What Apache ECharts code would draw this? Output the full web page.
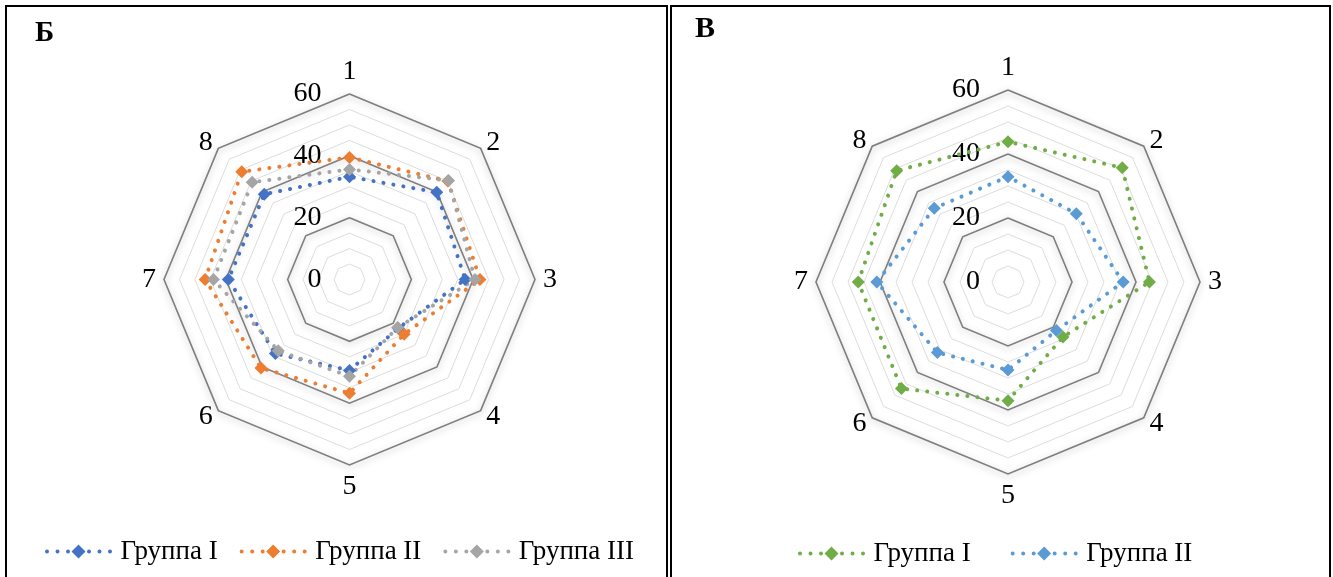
<!DOCTYPE html>
<html>
<head>
<meta charset="utf-8">
<script src="https://cdn.jsdelivr.net/npm/echarts@6/dist/echarts.min.js"></script>
<style>
html, body { margin: 0; padding: 0; background: #fff; width: 1333px; height: 577px; overflow: hidden; }
.frame { position: absolute; border: 2px solid #000; box-sizing: border-box; }
.chart { position: absolute; top: 0; height: 577px; }
</style>
</head>
<body>
<div class="frame" style="left:5px; top:5px; width:663px; height:620px;"></div>
<div class="frame" style="left:670px; top:5px; width:661px; height:620px;"></div>
<div id="chartB" class="chart" style="left:0; width:667px;"></div>
<div id="chartV" class="chart" style="left:667px; width:666px;"></div>
<script>
// Indicator names (clockwise from the top) and value scale
var indicatorNames = ['1', '2', '3', '4', '5', '6', '7', '8'];
var scaleMax = 60;

// Panel Б
var seriesNamesB = ['Группа I', 'Группа II', 'Группа III'];
var groupB1 = [33.2, 39.9, 37.4, 22.3, 29.4, 33.9, 39.2, 39.0];
var groupB2 = [39.5, 45.0, 42.2, 25.0, 36.8, 40.5, 46.7, 49.3];
var groupB3 = [35.6, 45.3, 40.6, 22.0, 31.3, 32.6, 44.0, 44.5];
var colorsB = ['#4472C4', '#ED7D31', '#A5A5A5'];

// Panel В
var seriesNamesV = ['Группа I', 'Группа II'];
var groupV1 = [43.8, 50.5, 44.2, 24.3, 37.1, 47.1, 46.8, 49.2];
var groupV2 = [32.9, 30.2, 36.0, 21.4, 27.5, 31.2, 41.0, 32.6];
var colorsV = ['#70AD47', '#5B9BD5'];

var FONT = '"Liberation Serif", "Times New Roman", serif';

// ECharts lays radar indicators out counter-clockwise; reorder to run clockwise.
var order = [0, 7, 6, 5, 4, 3, 2, 1];
function clockwise(arr) { return order.map(function (i) { return arr[i]; }); }

// Legend glyph: round dots on both sides of a diamond
var legendIcon = 'path://' +
  'M1.5,7a2,2 0 1,0 4,0a2,2 0 1,0 -4,0z' +
  'M12,7a2,2 0 1,0 4,0a2,2 0 1,0 -4,0z' +
  'M22.5,7a2,2 0 1,0 4,0a2,2 0 1,0 -4,0z' +
  'M35,0L42,7L35,14L28,7z' +
  'M43.5,7a2,2 0 1,0 4,0a2,2 0 1,0 -4,0z' +
  'M54,7a2,2 0 1,0 4,0a2,2 0 1,0 -4,0z' +
  'M64.5,7a2,2 0 1,0 4,0a2,2 0 1,0 -4,0z';

function buildOption(cfg) {
  var names = clockwise(indicatorNames);
  var minorInd = names.map(function (n) { return { name: n, min: 0, max: scaleMax }; });
  var majorInd = names.map(function (n, i) {
    var o = { name: n, min: 0, max: scaleMax };
    if (i === 0) o.axisLabel = { show: true };
    return o;
  });
  var radarBase = { center: cfg.center, radius: cfg.radius, startAngle: 90, shape: 'polygon' };
  return {
    animation: false,
    title: {
      text: cfg.title, left: cfg.titleLeft, top: cfg.titleTop, padding: 0,
      textStyle: { fontFamily: FONT, fontWeight: 'bold', fontSize: cfg.titleSize, color: '#000' }
    },
    legend: {
      left: cfg.legendLeft, top: cfg.legendTop, padding: 0,
      itemWidth: 74, itemHeight: 14, itemGap: cfg.legendGap,
      icon: legendIcon,
      itemStyle: { borderWidth: 0 },
      textStyle: { fontFamily: FONT, fontSize: 27, color: '#000' },
      data: cfg.names
    },
    radar: [
      Object.assign({}, radarBase, {
        indicator: minorInd, splitNumber: 12,
        axisName: { show: false },
        axisLine: { show: false }, axisTick: { show: false }, axisLabel: { show: false },
        splitArea: { show: false },
        splitLine: { lineStyle: { color: '#DCDCDC', width: 1 } }
      }),
      Object.assign({}, radarBase, {
        indicator: majorInd, splitNumber: 3, nameGap: 8,
        axisName: { color: '#000', fontFamily: FONT, fontSize: 28 },
        axisLine: { show: false }, axisTick: { show: false },
        axisLabel: { show: false, color: '#000', fontFamily: FONT, fontSize: 28, margin: 28 },
        splitArea: { show: false },
        splitLine: { lineStyle: { color: '#7F7F7F', width: 1.6, shadowBlur: 7, shadowColor: 'rgba(0,0,0,0.28)', shadowOffsetY: 2 } }
      })
    ],
    series: cfg.data.map(function (vals, k) {
      return {
        type: 'radar', radarIndex: 1, name: cfg.names[k],
        symbol: 'diamond', symbolSize: 13,
        itemStyle: { color: cfg.colors[k] },
        lineStyle: { color: cfg.colors[k], width: 4, type: [0.1, 10], cap: 'round' },
        data: [{ name: cfg.names[k], value: clockwise(vals) }]
      };
    })
  };
}

var chartB = echarts.init(document.getElementById('chartB'));
chartB.setOption(buildOption({
  title: 'Б', titleLeft: 35, titleTop: 19, titleSize: 29,
  center: [349.5, 279.5], radius: 185.5,
  legendLeft: 45, legendTop: 538, legendGap: 22,
  names: seriesNamesB, colors: colorsB, data: [groupB1, groupB2, groupB3]
}));

var chartV = echarts.init(document.getElementById('chartV'));
chartV.setOption(buildOption({
  title: 'В', titleLeft: 28, titleTop: 14, titleSize: 30,
  center: [341, 282], radius: 192,
  legendLeft: 131, legendTop: 540, legendGap: 40,
  names: seriesNamesV, colors: colorsV, data: [groupV1, groupV2]
}));
</script>
</body>
</html>
